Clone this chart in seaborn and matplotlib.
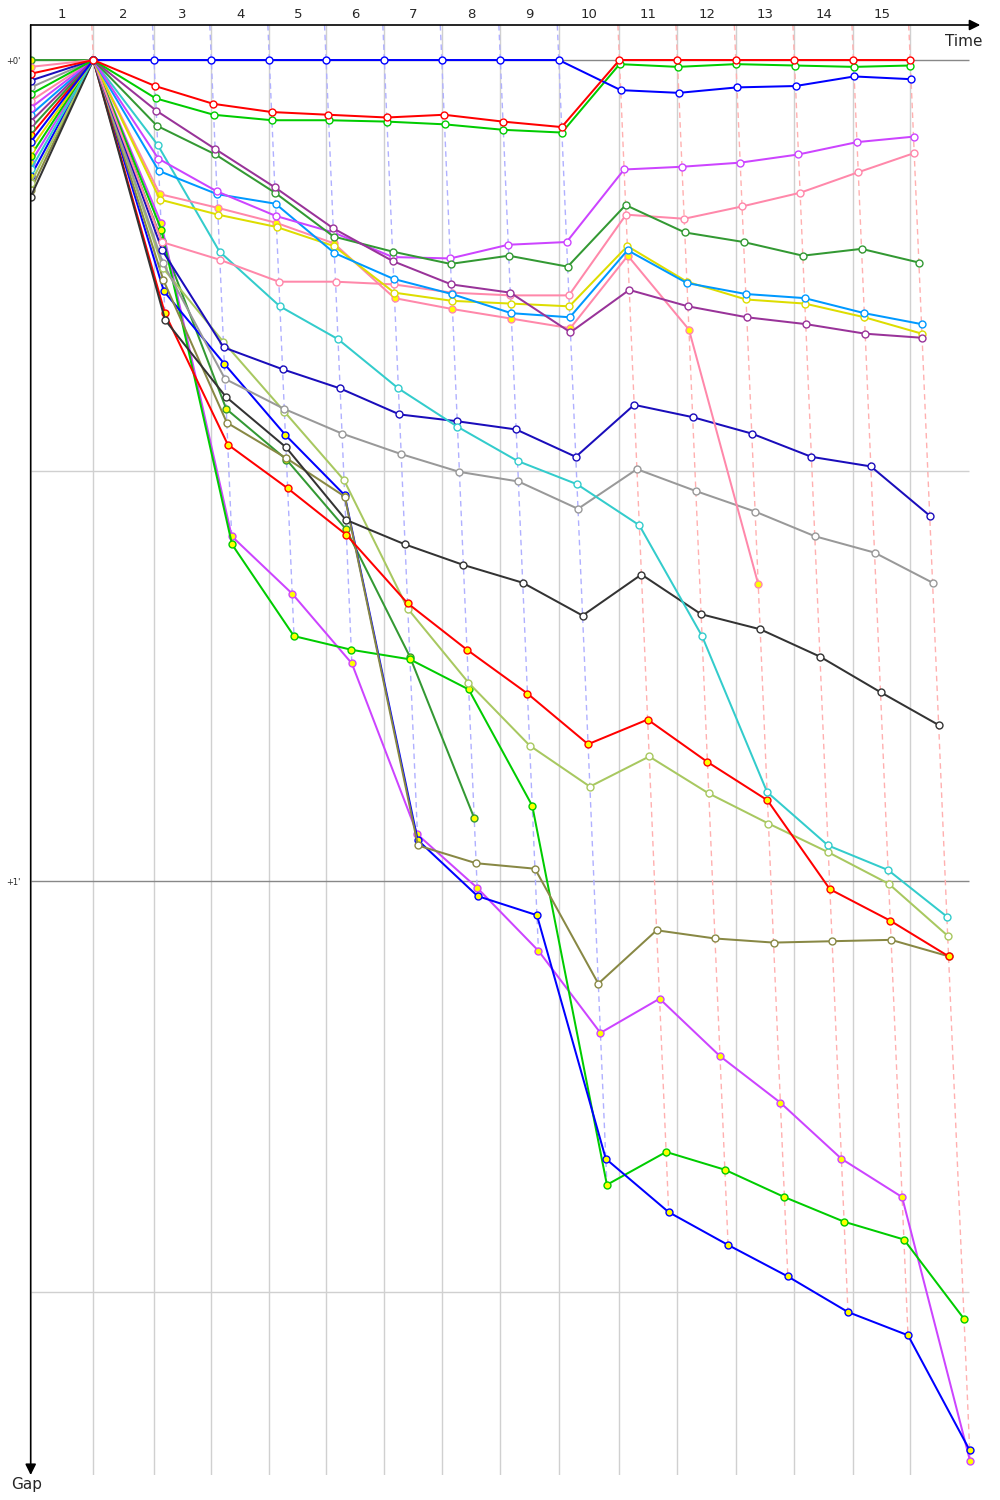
import numpy as np
import pandas as pd
import matplotlib
matplotlib.use("Agg")
import matplotlib.pyplot as plt
import seaborn as sns

# leader lap times in seconds, laps 1..15
lap_times = [107.0, 103.8, 97.9, 99.2, 96.9, 99.6, 98.2, 100.1, 99.9, 103.6,
             99.1, 99.8, 100.2, 100.9, 97.0]
lap_leader = ["red"] + ["blue"] * 8 + ["red"] * 6
lap_labels = [str(i) for i in range(1, 16)]

# gap to leader (s) per rider: start, lap 1 .. lap 15
nan = np.nan
gap_blue = [6.0, 0, 0, 0, 0, 0, 0, 0, 0, 0, 2.2, 2.4, 2.0, 1.9, 1.2, 1.4]
gap_red = [1.0, 0, 1.9, 3.2, 3.8, 4.0, 4.2, 4.0, 4.5, 4.9, 0, 0, 0, 0, 0, 0]
gap_green = [2.5, 0, 2.8, 4.0, 4.4, 4.4, 4.5, 4.7, 5.1, 5.3, 0.3, 0.5, 0.3, 0.4, 0.5, 0.4]
gap_purple = [4.5, 0, 3.7, 6.5, 9.3, 12.3, 14.7, 16.4, 17.0, 19.9, 16.8, 18.0, 18.8, 19.3, 20.0, 20.3]
gap_dkgreen = [5.0, 0, 4.8, 6.9, 9.7, 12.9, 14.0, 14.9, 14.3, 15.1, 10.6, 12.6, 13.3, 14.3, 13.8, 14.8]
gap_magenta = [3.5, 0, 7.2, 9.6, 11.4, 12.6, 14.4, 14.5, 13.5, 13.3, 8.0, 7.8, 7.5, 6.9, 6.0, 5.6]
gap_cyan = [8.0, 0, 6.2, 14.0, 18.0, 20.4, 24.0, 26.8, 29.3, 31.0, 34.0, 42.1, 53.5, 57.4, 59.2, 62.6]
gap_skyblue = [4.0, 0, 8.1, 9.8, 10.5, 14.1, 16.0, 17.1, 18.5, 18.8, 13.9, 16.3, 17.1, 17.4, 18.5, 19.3]
gap_yellow = [6.5, 0, 10.2, 11.3, 12.2, 13.6, 17.0, 17.6, 17.8, 18.0, 13.6, 16.2, 17.5, 17.8, 18.8, 20.0]
gap_pink2 = [0.5, 0, 9.8, 10.8, 11.9, 13.4, 17.4, 18.2, 18.9, 19.6, 14.3, 19.7, 38.3, nan, nan, nan]
gap_pink = [3.0, 0, 13.3, 14.6, 16.2, 16.2, 16.4, 17.0, 17.2, 17.2, 11.3, 11.6, 10.7, 9.7, 8.2, 6.8]
gap_navy = [1.5, 0, 13.9, 21.0, 22.6, 24.0, 25.9, 26.4, 27.0, 29.0, 25.2, 26.1, 27.3, 29.0, 29.7, 33.3]
gap_gray = [2.0, 0, 14.8, 23.3, 25.5, 27.3, 28.8, 30.1, 30.8, 32.8, 29.9, 31.5, 33.0, 34.8, 36.0, 38.2]
gap_black = [10.0, 0, 19.0, 24.6, 28.3, 33.6, 35.4, 36.9, 38.2, 40.6, 37.6, 40.5, 41.6, 43.6, 46.2, 48.6]
gap_red2 = [5.5, 0, 18.5, 28.1, 31.3, 34.7, 39.7, 43.1, 46.3, 50.0, 48.2, 51.3, 54.1, 60.6, 62.9, 65.5]
gap_blue2 = [8.5, 0, 16.9, 22.2, 27.4, 31.8, 57.0, 61.1, 62.5, 80.3, 84.2, 86.6, 88.9, 91.5, 93.2, 101.6]
gap_olive = [9.5, 0, 16.1, 26.5, 29.1, 31.9, 57.4, 58.7, 59.1, 67.5, 63.6, 64.2, 64.5, 64.4, 64.3, 65.5]
gap_ltolive = [9.0, 0, 15.2, 20.6, 25.7, 30.7, 40.1, 45.5, 50.1, 53.1, 50.9, 53.6, 55.8, 57.9, 60.2, 64.0]
gap_green2 = [7.0, 0, 12.4, 35.4, 42.1, 43.1, 43.8, 46.0, 54.5, 82.2, 79.8, 81.1, 83.1, 84.9, 86.2, 92.0]
gap_magenta2 = [7.5, 0, 11.9, 34.8, 39.0, 44.1, 56.6, 60.5, 65.1, 71.1, 68.6, 72.8, 76.2, 80.3, 83.1, 102.4]
gap_dkgreen2 = [0.0, 0, 13.2, 25.5, 29.2, 34.3, 43.6, 55.4, nan, nan, nan, nan, nan, nan, nan, nan]

W, Y = "white", "#ffff00"
riders = [
    (gap_dkgreen2, "#339933", Y), (gap_magenta2, "#cc44ff", Y),
    (gap_green2, "#00cc00", Y), (gap_blue2, "#0000ff", Y),
    (gap_olive, "#888844", W), (gap_ltolive, "#a8c860", W),
    (gap_red2, "#ff0000", Y), (gap_black, "#333333", W),
    (gap_gray, "#999999", W), (gap_navy, "#1a0dbb", W),
    (gap_cyan, "#33cccc", W), (gap_pink2, "#ff88aa", Y),
    (gap_pink, "#ff88aa", W), (gap_yellow, "#dddd00", W),
    (gap_skyblue, "#0099ff", W), (gap_magenta, "#cc44ff", W),
    (gap_dkgreen, "#339933", W), (gap_purple, "#993399", W),
    (gap_green, "#00cc00", W), (gap_blue, "#0000ff", W),
    (gap_red, "#ff0000", W),
]

sns.set_style("white")
plt.rcParams["font.family"] = ["DejaVu Sans"]

fig = plt.figure(figsize=(10, 15), dpi=100)
ax = fig.add_axes([30.7 / 1000, 25 / 1500, 954.3 / 1000, 1450 / 1500])

x_max, g_top, g_bot = 1631, -2.56, 103.41
T = np.cumsum(lap_times)
T0 = np.concatenate([[0], T])

# grid
ax.vlines(T, g_top, g_bot, color="#d0d0d0", lw=1, zorder=0)
for g, c in zip([0, 30, 60, 90], ["#888888", "#d0d0d0", "#888888", "#d0d0d0"]):
    ax.hlines(g, 0, T[-1] + 100, color=c, lw=1, zorder=0)

# lap lines
all_gaps = np.array([r[0] for r in riders], dtype=float)
for k in range(1, 16):
    gmax = np.nanmax(all_gaps[:, k])
    col = "#b0b0ff" if lap_leader[k - 1] == "blue" else "#ffb0b0"
    ax.plot([T0[k] + g_top, T0[k] + gmax], [g_top, gmax], color=col, lw=1,
            ls=(0, (4, 3)), zorder=1)

for gaps, col, fill in riders:
    g = np.array(gaps, dtype=float)
    x = T0 + g
    x[0] = 0
    m = ~np.isnan(g)
    df = pd.DataFrame({"time": x[m], "gap": g[m]})
    sns.lineplot(data=df, x="time", y="gap", ax=ax, color=col, linewidth=1.45,
                 marker="o", markersize=5, markerfacecolor=fill,
                 markeredgecolor=col, markeredgewidth=1, sort=False,
                 estimator=None, zorder=3)

ax.set_xlim(0, x_max)
ax.set_ylim(g_bot, g_top)
for s in ax.spines.values():
    s.set_visible(False)
ax.set_xlabel("")
ax.set_ylabel("")

mids = (T0[:-1] + T0[1:]) / 2
ax.xaxis.tick_top()
ax.set_xticks(mids)
ax.set_xticklabels(lap_labels)
ax.set_yticks([0, 60])
ax.set_yticklabels(["+0'", "+1'"])
ax.tick_params(axis="x", length=0, pad=3, labelsize=9.5)
ax.tick_params(axis="y", length=0, pad=7, labelsize=6)

arrow = dict(arrowstyle="-|>", color="black", lw=1.2, mutation_scale=16,
             shrinkA=0, shrinkB=0)
ax.annotate("", xy=(0.995, 1), xytext=(0, 1), xycoords="axes fraction",
            arrowprops=arrow, annotation_clip=False)
ax.annotate("", xy=(0, 0), xytext=(0, 1), xycoords="axes fraction",
            arrowprops=arrow, annotation_clip=False)
ax.text(0.997, 0.994, "Time", transform=ax.transAxes, ha="right", va="top",
        fontsize=11)
fig.text(0.011, 1 - 1485 / 1500, "Gap", fontsize=11, va="center", ha="left")

fig.savefig("out.png", dpi=100)
